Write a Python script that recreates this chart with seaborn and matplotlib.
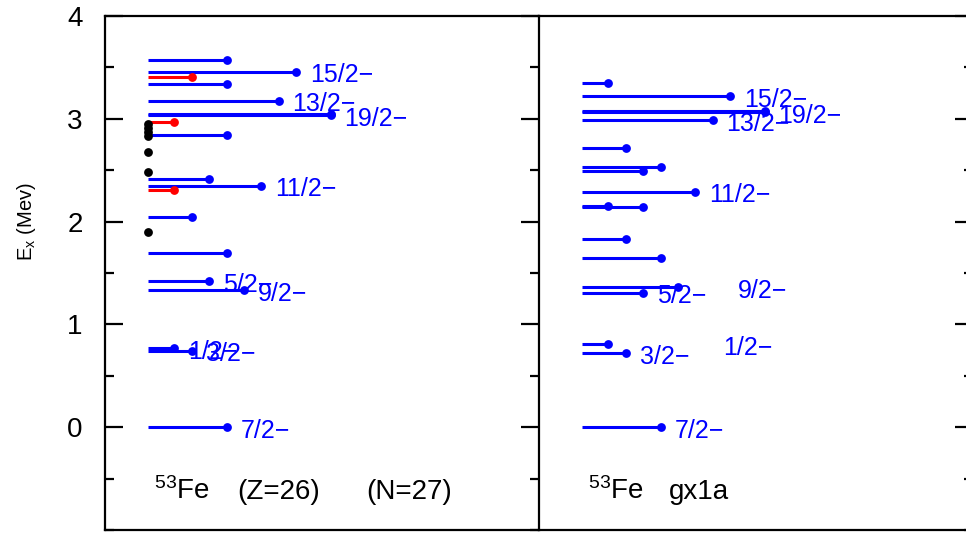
import matplotlib
matplotlib.use("Agg")
import matplotlib.pyplot as plt
from matplotlib.ticker import MultipleLocator
import seaborn as sns

sns.set_theme(style="ticks")
plt.rcParams['font.family'] = ['Liberation Sans', 'DejaVu Sans']
plt.rcParams['text.color'] = 'black'
plt.rcParams['axes.labelcolor'] = 'black'

# -----------------------------
# Level data (Ex in MeV, 2J)
# -----------------------------
# experiment, firm spins (blue)
exp_E = [0.0, 0.745, 0.77, 1.33, 1.42, 1.69, 2.04, 2.35, 2.41, 2.84,
         3.037, 3.047, 3.175, 3.34, 3.46, 3.57]
exp_2J = [7, 3, 1, 9, 5, 7, 3, 11, 5, 7, 19, 19, 13, 7, 15, 7]
exp_lab = ["7/2−", "3/2−", "1/2−", "9/2−", "5/2−", "", "", "11/2−", "", "",
           "19/2−", "", "13/2−", "", "15/2−", ""]

# experiment, tentative spins (red)
tent_E = [2.31, 2.97, 3.41]
tent_2J = [1, 1, 3]

# experiment, no spin assigned (black)
nospin_E = [1.90, 2.48, 2.68, 2.83, 2.87, 2.91, 2.95]

# shell model gx1a
sm_E = [0.0, 0.72, 0.81, 1.31, 1.36, 1.65, 1.835, 2.145, 2.155, 2.29,
        2.49, 2.53, 2.72, 2.985, 3.065, 3.075, 3.22, 3.35]
sm_2J = [7, 3, 1, 5, 9, 7, 3, 5, 1, 11, 5, 7, 3, 13, 19, 19, 15, 1]
sm_lab = ["7/2−", "3/2−", "1/2−", "5/2−", "9/2−", "", "", "", "", "11/2−",
          "", "", "", "13/2−", "19/2−", "", "15/2−", ""]

# labels that were pushed away from the line end (x in data units)
sm_lab_x = {"9/2−": 17.9, "1/2−": 16.2}

BLUE = (0, 0, 1)
RED = (1, 0, 0)


def draw_levels(ax, energies, twoj, color):
    ends = [j + 2 for j in twoj]
    for e, x1 in zip(energies, ends):
        ax.plot([0, x1], [e, e], color=color, lw=2.2, solid_capstyle='butt', zorder=2)
    sns.scatterplot(x=ends, y=energies, color=color, s=40, linewidth=0, ax=ax, zorder=3)


def draw_labels(ax, energies, twoj, labels, moved=None):
    moved = moved or {}
    for e, j, lab in zip(energies, twoj, labels):
        if not lab:
            continue
        x = moved.get(lab, j + 2 + 1.6)
        ax.text(x, e - 0.035, lab, color=BLUE, fontsize=18, ha='left', va='center')


fig = plt.figure(figsize=(9.66, 5.33), dpi=100)
ax1 = fig.add_axes([105 / 966, 3 / 533, 434 / 966, 514 / 533])
ax2 = fig.add_axes([539 / 966, 3 / 533, 434 / 966, 514 / 533])
ax2.patch.set_alpha(0)

for ax in (ax1, ax2):
    ax.set_xlim(-5, 45)
    ax.set_ylim(-1, 4)
    ax.set_xticks([])
    ax.set_yticks([0, 1, 2, 3, 4])
    ax.yaxis.set_minor_locator(MultipleLocator(0.5))
    for s in ax.spines.values():
        s.set_linewidth(1.6)
        s.set_color('black')

# left panel: experiment
draw_levels(ax1, exp_E, exp_2J, BLUE)
draw_levels(ax1, tent_E, tent_2J, RED)
sns.scatterplot(x=[0] * len(nospin_E), y=nospin_E, color='black', s=40,
                linewidth=0, ax=ax1, zorder=4)
draw_labels(ax1, exp_E, exp_2J, exp_lab)

ax1.tick_params(axis='y', which='both', direction='in', left=True, right=True,
                labelleft=True, labelsize=20, width=1.6, pad=16, colors='black')
ax1.tick_params(axis='y', which='major', length=13)
ax1.tick_params(axis='y', which='minor', length=6.5)
ax1.set_ylabel("E$_\\mathregular{x}$ (Mev)", fontsize=14.5, color='black')
ax1.yaxis.set_label_coords(-0.155, 0.6)

ax1.text(0.65, -0.70, "$\\mathregular{^{53}}$Fe", fontsize=20, va='baseline')
ax1.text(10.2, -0.70, "(Z=26)", fontsize=20, va='baseline')
ax1.text(25.1, -0.70, "(N=27)", fontsize=20, va='baseline')

# right panel: gx1a
draw_levels(ax2, sm_E, sm_2J, BLUE)
draw_labels(ax2, sm_E, sm_2J, sm_lab, sm_lab_x)

ax2.spines['left'].set_visible(False)
ax2.tick_params(axis='y', which='both', direction='in', left=False, right=True,
                labelleft=False, width=1.6, colors='black')
ax2.tick_params(axis='y', which='major', length=13)
ax2.tick_params(axis='y', which='minor', length=6.5)

ax2.text(0.65, -0.70, "$\\mathregular{^{53}}$Fe", fontsize=20, va='baseline')
ax2.text(10.0, -0.70, "gx1a", fontsize=20, va='baseline')

fig.savefig("out.png", dpi=100)
